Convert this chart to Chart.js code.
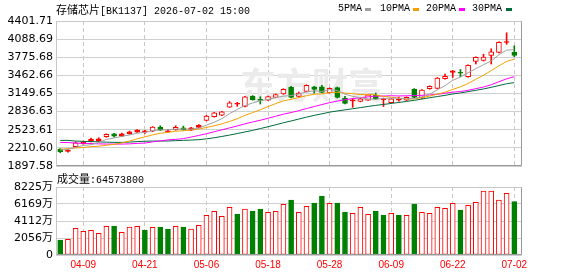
<!DOCTYPE html>
<html>
<head>
<meta charset="utf-8">
<script src="https://cdn.jsdelivr.net/npm/chart.js@4.4.1/dist/chart.umd.min.js"></script>
<style>
body { margin: 0; background: #fff; }
#wrap { position: relative; width: 578px; height: 276px; overflow: hidden; font-family: "Liberation Mono", monospace; color: #000; }
#wrap canvas { position: absolute; left: 0; }
.txt { position: absolute; white-space: nowrap; font-size: 10px; line-height: 12px; }
.cjk { font-family: "Noto Sans CJK SC", sans-serif; font-size: 11px; }
.sw { position: absolute; width: 6px; height: 3px; }
</style>
</head>
<body>
<div id="wrap">
  <canvas id="kline" width="578" height="176" style="top:0"></canvas>
  <canvas id="vol" width="578" height="106" style="top:170px"></canvas>
  <div class="txt" style="left:56px;top:3px"><span class="cjk">存储芯片</span>[BK1137] 2026-07-02 15:00</div>
  <div class="txt" style="left:338px;top:3px">5PMA</div>
  <div class="sw" style="left:365px;top:8px;background:#a0a0a0"></div>
  <div class="txt" style="left:380px;top:3px">10PMA</div>
  <div class="sw" style="left:413px;top:8px;background:#f5a000"></div>
  <div class="txt" style="left:426px;top:3px">20PMA</div>
  <div class="sw" style="left:459px;top:8px;background:#ff00ff"></div>
  <div class="txt" style="left:472px;top:3px">30PMA</div>
  <div class="sw" style="left:506px;top:8px;background:#006a3a"></div>
  <div class="txt" style="left:57px;top:172px"><span class="cjk">成交量</span>:64573800</div>
</div>
<script>
// trading days shown in the window
const dates = [
  "04-03", "04-07", "04-08", "04-09", "04-10", "04-13", "04-14", "04-15", "04-16", "04-17",
  "04-20", "04-21", "04-22", "04-23", "04-24", "04-27", "04-28", "04-29", "04-30", "05-06",
  "05-07", "05-08", "05-11", "05-12", "05-13", "05-14", "05-15", "05-18", "05-19", "05-20",
  "05-21", "05-22", "05-25", "05-26", "05-27", "05-28", "05-29", "06-01", "06-02", "06-03",
  "06-04", "06-05", "06-08", "06-09", "06-10", "06-11", "06-12", "06-15", "06-16", "06-17",
  "06-18", "06-22", "06-23", "06-24", "06-25", "06-26", "06-29", "06-30", "07-01", "07-02",
];
const tickDates = ["04-09", "04-21", "05-06", "05-18", "05-28", "06-09", "06-22", "07-02"];

const open = [
  2189.9, 2150.1, 2229.6, 2281.5, 2322.9, 2328.1, 2402.4, 2454.3, 2414.5, 2454.3,
  2483.6, 2483.6, 2500.9, 2570.0, 2488.8, 2523.4, 2557.9, 2518.2, 2564.9, 2685.8,
  2748.0, 2777.4, 2915.6, 2964.0, 2927.7, 3105.7, 3036.6, 3036.6, 3083.3, 3143.7,
  3256.1, 3100.5, 3186.9, 3266.4, 3266.4, 3162.7, 3252.6, 3071.2, 3022.8, 3014.1,
  3036.6, 3117.8, 3043.5, 2989.9, 3033.1, 3036.6, 3221.5, 3071.2, 3231.9, 3238.8,
  3404.7, 3511.8, 3506.6, 3439.2, 3705.3, 3719.2, 3809.0, 3860.9, 4030.2, 3860.9,
];
const high = [
  2198.5, 2181.2, 2316.0, 2328.1, 2380.0, 2385.1, 2454.3, 2462.9, 2466.4, 2500.9,
  2526.8, 2514.7, 2578.7, 2592.5, 2530.3, 2592.5, 2587.3, 2566.6, 2613.2, 2772.2,
  2825.8, 2843.1, 3010.7, 2996.9, 3100.5, 3114.4, 3093.6, 3105.7, 3140.3, 3231.9,
  3273.3, 3174.8, 3299.3, 3275.1, 3290.6, 3247.4, 3261.2, 3100.5, 3059.1, 3067.7,
  3136.8, 3157.6, 3071.2, 3067.7, 3088.4, 3091.9, 3235.3, 3218.0, 3282.0, 3425.4,
  3485.9, 3546.4, 3563.6, 3644.9, 3783.1, 3828.0, 3921.3, 4044.0, 4197.8, 3973.2,
];
const low = [
  2125.9, 2138.0, 2221.0, 2272.8, 2314.3, 2319.5, 2393.8, 2397.2, 2405.9, 2445.6,
  2475.0, 2461.2, 2492.3, 2509.6, 2480.2, 2514.7, 2514.7, 2509.6, 2556.2, 2677.2,
  2739.4, 2768.8, 2907.0, 2927.7, 2919.1, 3033.1, 2967.5, 3028.0, 3074.6, 3135.1,
  3074.6, 3091.9, 3178.3, 3157.6, 3161.0, 3154.1, 3071.2, 2970.9, 2910.5, 3005.5,
  3028.0, 3045.2, 2924.3, 2981.3, 3019.3, 3028.0, 3071.2, 3062.5, 3223.2, 3230.1,
  3396.0, 3428.9, 3439.2, 3430.6, 3658.7, 3710.5, 3658.7, 3852.2, 3999.1, 3784.8,
];
const close = [
  2143.2, 2172.6, 2298.7, 2316.0, 2362.7, 2367.9, 2443.9, 2414.5, 2454.3, 2488.8,
  2518.2, 2506.1, 2570.0, 2518.2, 2506.1, 2564.9, 2523.4, 2557.9, 2604.6, 2760.1,
  2817.1, 2834.4, 2989.9, 2970.9, 3091.9, 3041.8, 3029.7, 3097.1, 3131.6, 3223.2,
  3083.3, 3157.6, 3290.6, 3221.5, 3169.7, 3238.8, 3079.8, 2979.6, 3031.4, 3059.1,
  3128.2, 3053.9, 3048.7, 3059.1, 3040.1, 3083.3, 3079.8, 3209.4, 3273.3, 3416.8,
  3446.1, 3541.2, 3499.7, 3636.2, 3774.5, 3779.6, 3869.5, 4035.4, 4038.8, 3805.6,
];
// volume in 万
const volume = [
  1814, 1895, 3226, 2863, 2984, 2621, 3468, 3468, 2742, 3387,
  3468, 3024, 3347, 3387, 3145, 3468, 3387, 3145, 3588, 4798,
  5282, 4677, 5766, 4959, 5564, 5322, 5564, 5161, 5282, 6129,
  6653, 5161, 5887, 6290, 7137, 6250, 6290, 5201, 5040, 5766,
  4919, 5322, 4838, 5040, 4838, 4798, 6169, 5161, 5040, 5766,
  5645, 6250, 5443, 6008, 6371, 7741, 7741, 6653, 7459, 6457,
];
const ma5 = [
  2172.6, 2184.7, 2219.3, 2253.8, 2264.2, 2303.9, 2357.5, 2381.7, 2409.3, 2433.5,
  2464.6, 2476.7, 2507.8, 2519.9, 2523.4, 2533.8, 2537.2, 2533.8, 2551.0, 2602.9,
  2653.0, 2715.2, 2801.6, 2874.2, 2941.6, 2986.5, 3024.5, 3047.0, 3078.1, 3104.0,
  3112.6, 3138.6, 3176.6, 3195.6, 3185.2, 3216.3, 3200.8, 3138.6, 3100.5, 3078.1,
  3055.6, 3050.4, 3064.2, 3069.4, 3066.0, 3057.3, 3062.5, 3093.6, 3136.8, 3212.9,
  3285.4, 3377.0, 3435.8, 3508.3, 3579.2, 3646.6, 3712.2, 3819.4, 3898.9, 3905.8,
];
const ma10 = [
  2186.4, 2196.8, 2208.9, 2217.5, 2231.4, 2240.0, 2255.5, 2272.0, 2295.0, 2328.1,
  2366.1, 2400.7, 2435.3, 2462.9, 2478.5, 2499.2, 2506.1, 2519.9, 2535.5, 2563.1,
  2592.5, 2625.3, 2666.8, 2713.5, 2772.2, 2818.9, 2869.0, 2924.3, 2976.1, 3022.8,
  3048.7, 3081.5, 3110.9, 3136.8, 3143.7, 3164.5, 3169.7, 3157.6, 3147.2, 3131.6,
  3135.1, 3124.7, 3100.5, 3085.0, 3071.2, 3055.6, 3055.6, 3079.8, 3104.0, 3138.6,
  3171.4, 3219.8, 3264.7, 3321.7, 3396.0, 3465.1, 3544.6, 3627.6, 3703.6, 3743.4,
];
const ma20 = [
  2305.7, 2302.2, 2293.6, 2288.4, 2284.9, 2279.7, 2276.3, 2276.3, 2276.3, 2279.7,
  2288.4, 2293.6, 2314.3, 2331.6, 2348.9, 2357.5, 2369.6, 2397.2, 2424.9, 2454.3,
  2488.8, 2521.7, 2556.2, 2589.0, 2625.3, 2658.2, 2687.5, 2722.1, 2756.7, 2793.0,
  2820.6, 2853.4, 2889.7, 2924.3, 2958.8, 2991.7, 3019.3, 3040.1, 3062.5, 3076.3,
  3091.9, 3104.0, 3105.7, 3110.9, 3107.4, 3110.9, 3112.6, 3117.8, 3124.7, 3135.1,
  3154.1, 3173.1, 3183.5, 3204.2, 3233.6, 3261.2, 3301.0, 3352.8, 3402.9, 3441.0,
];
const ma30 = [
  2340.2, 2340.2, 2328.1, 2322.9, 2319.5, 2314.3, 2309.1, 2305.7, 2305.7, 2310.8,
  2319.5, 2324.6, 2328.1, 2328.1, 2329.8, 2335.0, 2340.2, 2345.4, 2352.3, 2366.1,
  2385.1, 2407.6, 2431.8, 2457.7, 2485.4, 2513.0, 2544.1, 2575.2, 2609.8, 2644.3,
  2675.4, 2708.3, 2741.1, 2772.2, 2798.1, 2827.5, 2848.2, 2867.3, 2886.3, 2905.3,
  2926.0, 2945.0, 2960.6, 2977.8, 2995.1, 3012.4, 3031.4, 3053.9, 3076.3, 3097.1,
  3117.8, 3142.0, 3159.3, 3181.8, 3204.2, 3228.4, 3256.1, 3287.2, 3318.3, 3337.3,
];
const priceTicks = [1897.58, 2210.60, 2523.61, 2836.63, 3149.65, 3462.66, 3775.68, 4088.69, 4401.71];
const volTicks = [0, 2056, 4112, 6169, 8225];

const RED = "#ff0000";
const GREEN = "#008000";
const idx = close.map((_, i) => i);
const tickIdx = tickDates.map((d) => dates.indexOf(d));
const up = idx.map((i) => close[i] >= open[i]);
// volume colour follows close vs previous close
const volUp = idx.map((i) => (i === 0 ? up[0] : close[i] >= close[i - 1]));

const tickFont = { family: '"DejaVu Sans", "Noto Sans CJK SC"', size: 11 };

// frame round the plot area
const frame = {
  id: "frame",
  afterDraw(chart) {
    const { ctx, chartArea: a } = chart;
    const l = Math.round(a.left) + 0.5, r = Math.round(a.right) - 0.5;
    const t = Math.round(a.top) + 0.5, b = Math.round(a.bottom) - 0.5;
    ctx.save();
    ctx.lineWidth = 1;
    ctx.strokeStyle = "#c8c8c8";
    ctx.beginPath();
    ctx.moveTo(l, b); ctx.lineTo(l, t); ctx.lineTo(r, t);
    ctx.stroke();
    ctx.strokeStyle = "#999";
    ctx.beginPath();
    ctx.moveTo(r, t); ctx.lineTo(r, b); ctx.lineTo(l, b);
    ctx.stroke();
    ctx.restore();
  },
};

// faint site watermark behind the candles
const watermark = {
  id: "watermark",
  beforeDatasetsDraw(chart) {
    const { ctx, chartArea: a } = chart;
    ctx.save();
    ctx.fillStyle = "#ebebeb";
    ctx.font = 'bold 36px "Noto Sans CJK SC"';
    ctx.textBaseline = "alphabetic";
    ctx.fillText("东方财富", a.left + 184, a.top + 78);
    ctx.restore();
  },
};

const xScale = (showLabels) => ({
  type: "linear",
  min: -0.55,
  max: 60,
  offset: false,
  afterBuildTicks: (s) => { s.ticks = tickIdx.map((v) => ({ value: v })); },
  afterFit: (s) => { s.height = showLabels ? 21 : 0; },
  ticks: {
    display: showLabels,
    padding: 4,
    color: RED,
    font: { family: '"Liberation Sans Narrow", "Liberation Sans"', size: 10 },
    callback: (v) => dates[v],
  },
  grid: { color: "#c8c8c8", drawTicks: false, offset: false },
  border: { display: false, dash: [4, 3] },
});

const maLine = (label, data, color) => ({
  type: "line",
  label: label,
  order: 1,
  data: data.map((v, i) => ({ x: i, y: v })),
  borderColor: color,
  borderWidth: 1,
  pointRadius: 0,
  tension: 0,
});

new Chart(document.getElementById("kline").getContext("2d"), {
  type: "bar",
  data: {
    datasets: [
      maLine("5PMA", ma5, "#a0a0a0"),
      maLine("10PMA", ma10, "#f5a000"),
      maLine("20PMA", ma20, "#ff00ff"),
      maLine("30PMA", ma30, "#006a3a"),
      {
        label: "body",
        order: 2,
        grouped: false,
        data: idx.map((i) => ({ x: i, y: [open[i], close[i]] })),
        backgroundColor: idx.map((i) => (!up[i] ? GREEN : close[i] - open[i] < 40 ? RED : "#fff")),
        borderColor: idx.map((i) => (up[i] ? RED : GREEN)),
        borderWidth: 1,
        borderSkipped: false,
        barThickness: 5,
        minBarLength: 1,
      },
      {
        label: "wick",
        order: 3,
        grouped: false,
        data: idx.map((i) => ({ x: i, y: [low[i], high[i]] })),
        backgroundColor: idx.map((i) => (up[i] ? RED : GREEN)),
        borderWidth: 0,
        barThickness: 1,
      },
    ],
  },
  options: {
    responsive: false,
    animation: false,
    layout: { padding: { top: 21, right: 56, bottom: 10, left: 0 } },
    plugins: { legend: { display: false }, tooltip: { enabled: false } },
    scales: {
      x: xScale(false),
      y: {
        min: 1897.58,
        max: 4401.71,
        afterBuildTicks: (s) => { s.ticks = priceTicks.map((v) => ({ value: v })); },
        afterFit: (s) => { s.width = 56; },
        ticks: { padding: 3, color: "#000", font: tickFont, callback: (v) => v.toFixed(2) },
        grid: { color: "#d0d0d0", drawTicks: false },
        border: { display: false },
      },
    },
  },
  plugins: [watermark, frame],
});

new Chart(document.getElementById("vol").getContext("2d"), {
  type: "bar",
  data: {
    datasets: [
      {
        label: "成交量",
        data: idx.map((i) => ({ x: i, y: volume[i] })),
        backgroundColor: idx.map((i) => (volUp[i] ? "#fff" : GREEN)),
        borderColor: idx.map((i) => (volUp[i] ? RED : GREEN)),
        borderWidth: 1,
        borderSkipped: false,
        barThickness: 5,
      },
    ],
  },
  options: {
    responsive: false,
    animation: false,
    layout: { padding: { top: 17, right: 56, bottom: 0, left: 0 } },
    plugins: { legend: { display: false }, tooltip: { enabled: false } },
    scales: {
      x: xScale(true),
      y: {
        min: 0,
        max: 8225,
        afterBuildTicks: (s) => { s.ticks = volTicks.map((v) => ({ value: v })); },
        afterFit: (s) => { s.width = 56; },
        ticks: { padding: 3, color: "#000", font: tickFont, callback: (v) => (v === 0 ? "0" : v + "万") },
        grid: { color: "#d0d0d0", drawTicks: false },
        border: { display: false },
      },
    },
  },
  plugins: [frame],
});
</script>
</body>
</html>
